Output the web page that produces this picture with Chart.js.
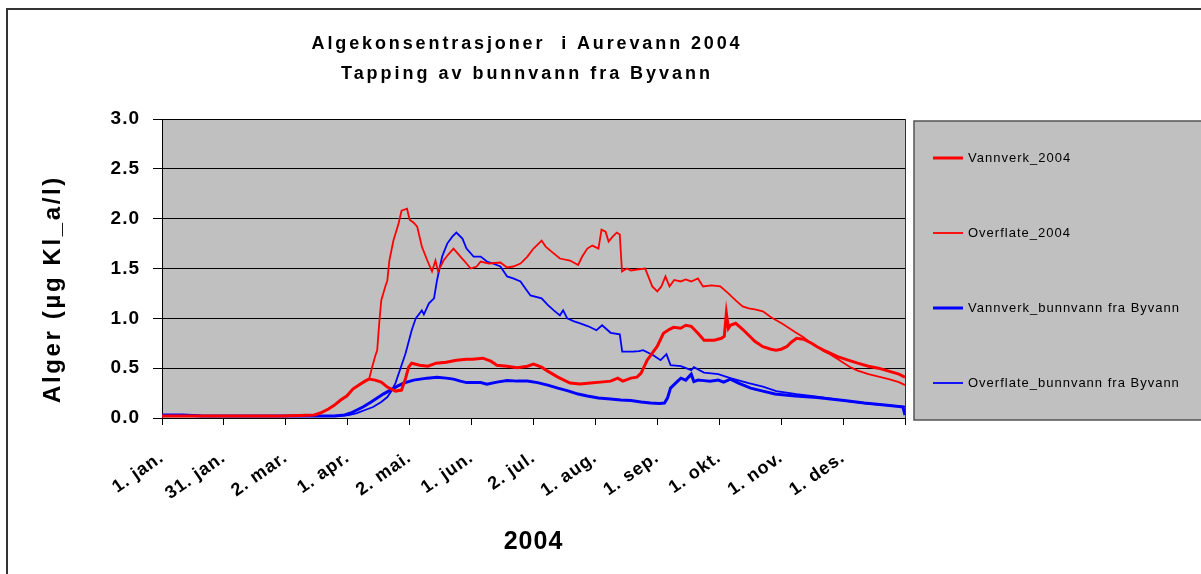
<!DOCTYPE html>
<html>
<head>
<meta charset="utf-8">
<script src="https://cdn.jsdelivr.net/npm/chart.js@4.4.1/dist/chart.umd.min.js"></script>
<style>
  html, body { margin: 0; padding: 0; background: #fff; }
  #wrap { width: 1201px; height: 574px; }
</style>
</head>
<body>
<div id="wrap"><canvas id="algeChart" width="1201" height="574"></canvas></div>
<script>
// chart texts
const titleLines = ['Algekonsentrasjoner  i Aurevann 2004', 'Tapping av bunnvann fra Byvann'];
const yTitle = 'Alger (µg Kl_a/l)';
const xTitle = '2004';

// x axis: day of year (0 = 1. jan.), ticks every 30.5 days
const tickDays = [0, 30.5, 61, 91.5, 122, 152.5, 183, 213.5, 244, 274.5, 305, 335.5, 366];
const tickLabels = ['1. jan.', '31. jan.', '2. mar.', '1. apr.', '2. mai.', '1. jun.', '2. jul.',
  '1. aug.', '1. sep.', '1. okt.', '1. nov.', '1. des.', ''];

// Vannverk_2004
const vannverkDays = [0, 20, 40, 60, 75, 78, 82, 85, 88, 91, 94, 97, 100, 102, 105, 108, 111, 115, 118, 120,
  121.5, 123, 127, 131, 135, 140, 145, 150, 153, 158, 162, 165, 170, 175, 180, 183, 187, 190, 195, 201,
  206, 211, 216, 221, 224.5, 227, 231, 234, 236, 239, 241.5, 244, 247, 250, 252, 255.5, 258, 260.7, 264, 267,
  272, 275.6, 277, 278, 279, 280, 282.6, 286, 289, 292, 296, 300, 302.5, 305, 307.7, 310, 312.6, 316, 320,
  322.7, 327, 332.8, 338, 342.7, 348, 352.9, 358, 363, 366];
const vannverkValues = [0.02, 0.02, 0.02, 0.02, 0.03, 0.05, 0.09, 0.13, 0.18, 0.22, 0.29, 0.33, 0.37, 0.39, 0.38, 0.36, 0.31, 0.27, 0.28, 0.40,
  0.51, 0.55, 0.53, 0.52, 0.55, 0.56, 0.58, 0.59, 0.59, 0.60, 0.57, 0.53, 0.52, 0.505, 0.52, 0.54, 0.51, 0.47, 0.41, 0.35,
  0.34, 0.35, 0.36, 0.37, 0.40, 0.37, 0.40, 0.41, 0.45, 0.58, 0.65, 0.72, 0.85, 0.89, 0.91, 0.90, 0.93, 0.92, 0.85, 0.78,
  0.78, 0.80, 0.82, 1.05, 0.90, 0.93, 0.95, 0.89, 0.83, 0.77, 0.715, 0.69, 0.68, 0.69, 0.715, 0.76, 0.80, 0.79, 0.75,
  0.715, 0.67, 0.615, 0.58, 0.55, 0.52, 0.50, 0.47, 0.44, 0.41];

// Overflate_2004
const overflateDays = [0, 20, 40, 60, 75, 78, 82, 85, 88, 91, 94, 97, 100, 102, 103.5, 105, 106, 107, 108, 110,
  111, 112, 114, 116.5, 118, 120.7, 122, 124, 125.7, 128, 130.6, 133, 134.7, 136, 138.7, 141, 143.6, 147, 150, 152,
  155, 157, 161, 166.7, 170, 173, 176.6, 180, 183, 187, 189, 191, 196, 201, 205, 207, 209.5, 212, 215, 216.5,
  218.5, 220, 222, 224, 225.5, 226.6, 229, 231, 234, 238, 241.5, 244, 246, 248, 250, 252.3, 255.5, 258, 260.7, 264,
  266.5, 270.7, 275, 279, 282.6, 286, 289, 292, 296, 300, 302.6, 306, 309, 312, 316, 319, 322.7, 326, 329, 333,
  336, 339, 342.7, 348, 353, 358, 363, 366];
const overflateValues = [0.02, 0.02, 0.02, 0.02, 0.03, 0.05, 0.09, 0.13, 0.18, 0.22, 0.29, 0.33, 0.37, 0.39, 0.51, 0.62, 0.68, 0.95, 1.18, 1.32,
  1.38, 1.58, 1.78, 1.95, 2.08, 2.10, 1.99, 1.96, 1.92, 1.72, 1.585, 1.47, 1.58, 1.47, 1.58, 1.64, 1.70, 1.62, 1.55, 1.50,
  1.52, 1.57, 1.55, 1.56, 1.51, 1.52, 1.55, 1.62, 1.70, 1.78, 1.72, 1.685, 1.60, 1.58, 1.535, 1.62, 1.70, 1.73, 1.70, 1.89,
  1.87, 1.77, 1.82, 1.86, 1.84, 1.47, 1.50, 1.48, 1.49, 1.50, 1.32, 1.27, 1.32, 1.42, 1.32, 1.385, 1.37, 1.39, 1.37, 1.40,
  1.32, 1.33, 1.32, 1.25, 1.18, 1.12, 1.10, 1.09, 1.07, 1.01, 0.98, 0.94, 0.90, 0.86, 0.81, 0.76, 0.715, 0.67, 0.64, 0.59,
  0.55, 0.51, 0.475, 0.44, 0.415, 0.39, 0.36, 0.33];

// Vannverk_bunnvann fra Byvann
const vannverkBunnDays = [0, 10, 20, 60, 85, 90, 93, 96, 99, 103, 106, 109, 112.5, 116, 119, 124, 130.6, 135.5, 140, 143.6,
  147, 150, 157, 160, 165, 170, 175, 180, 185, 190, 195, 199.6, 205, 209.5, 215, 221, 226, 231, 236, 240.7,
  245, 247.5, 249, 250.5, 252, 253, 255.6, 258, 260.7, 262, 264, 267, 270, 274, 276.7, 280, 284, 290, 296, 302,
  312, 322.7, 336, 346, 356, 363, 365, 366];
const vannverkBunnValues = [0.03, 0.03, 0.02, 0.02, 0.02, 0.03, 0.05, 0.08, 0.11, 0.16, 0.20, 0.24, 0.28, 0.32, 0.35, 0.38, 0.40, 0.41, 0.40, 0.39,
  0.37, 0.355, 0.355, 0.34, 0.36, 0.375, 0.37, 0.37, 0.355, 0.33, 0.30, 0.275, 0.24, 0.22, 0.20, 0.19, 0.18, 0.175, 0.16, 0.15,
  0.145, 0.15, 0.20, 0.30, 0.33, 0.35, 0.40, 0.38, 0.44, 0.365, 0.38, 0.375, 0.37, 0.38, 0.36, 0.39, 0.35, 0.30, 0.27, 0.24,
  0.22, 0.205, 0.175, 0.15, 0.13, 0.115, 0.11, 0.03];

// Overflate_bunnvann fra Byvann
const overflateBunnDays = [0, 10, 20, 60, 85, 92, 96, 100, 104, 108, 111, 113, 115, 117.5, 120, 123, 125, 128, 129, 131.5,
  134, 135.5, 138, 140.5, 143, 145, 148, 150, 153.5, 157, 160, 163, 166.7, 170, 173, 176.6, 179, 181.5, 187, 190,
  193, 196, 197.6, 199.6, 203, 206, 210, 214, 216.8, 221, 225.5, 226.7, 232, 235, 237, 242, 245.6, 248.5, 250.5, 255.6,
  260.7, 262, 267, 274, 280, 289, 296, 302.6, 312.6, 322.7, 336, 346, 356, 363, 366];
const overflateBunnValues = [0.03, 0.03, 0.02, 0.02, 0.02, 0.03, 0.05, 0.08, 0.11, 0.16, 0.21, 0.27, 0.35, 0.50, 0.65, 0.88, 1.00, 1.08, 1.04, 1.15,
  1.20, 1.385, 1.62, 1.75, 1.82, 1.86, 1.80, 1.70, 1.62, 1.62, 1.57, 1.55, 1.52, 1.42, 1.40, 1.37, 1.30, 1.23, 1.20, 1.135,
  1.08, 1.03, 1.08, 1.00, 0.97, 0.95, 0.92, 0.88, 0.93, 0.855, 0.84, 0.665, 0.665, 0.67, 0.68, 0.63, 0.58, 0.64, 0.53, 0.52,
  0.48, 0.51, 0.455, 0.44, 0.40, 0.35, 0.315, 0.27, 0.24, 0.215, 0.175, 0.147, 0.13, 0.12, 0.115];

const yTicks = [0, 0.5, 1, 1.5, 2, 2.5, 3];

function toPoints(days, values) {
  return days.map((d, i) => ({ x: d, y: values[i] }));
}

Chart.defaults.font.family = "'Liberation Sans', Arial, sans-serif";
Chart.defaults.color = '#000';

// draw text stretched to a given width with letter spacing (Excel look)
function spacedText(ctx, text, cx, cy, width) {
  ctx.letterSpacing = '0px';
  const w = ctx.measureText(text).width;
  const sp = (width - w) / text.length;
  ctx.letterSpacing = sp + 'px';
  ctx.textAlign = 'left';
  ctx.textBaseline = 'middle';
  ctx.fillText(text, cx - width / 2, cy);
}

const decor = {
  id: 'decor',
  beforeDraw(chart) {
    const { ctx, chartArea: a } = chart;
    ctx.save();
    ctx.fillStyle = '#c0c0c0';
    ctx.fillRect(a.left, a.top, a.right - a.left, a.bottom - a.top);
    ctx.restore();
    ctx.letterSpacing = '1px';
  },
  afterDraw(chart) {
    const { ctx, chartArea: a } = chart;
    ctx.save();
    // outer frame
    ctx.strokeStyle = '#333';
    ctx.lineWidth = 2;
    ctx.strokeRect(7, 9, 1300, 700);
    // plot frame
    ctx.strokeStyle = '#333';
    ctx.lineWidth = 1;
    ctx.beginPath();
    ctx.moveTo(a.right + 0.5, a.top);
    ctx.lineTo(a.right + 0.5, a.bottom);
    ctx.stroke();

    // title
    ctx.fillStyle = '#000';
    ctx.font = "bold 18px 'Liberation Sans', Arial, sans-serif";
    spacedText(ctx, titleLines[0], 527, 44, 431);
    spacedText(ctx, titleLines[1], 527, 74, 372);

    // y title
    ctx.save();
    ctx.translate(53, 289);
    ctx.rotate(-Math.PI / 2);
    ctx.font = "bold 24px 'Liberation Sans', Arial, sans-serif";
    spacedText(ctx, yTitle, 0, 0, 228);
    ctx.restore();

    // legend box
    const lx = 914, ly = 121, lw = 300, lh = 299;
    ctx.fillStyle = '#c0c0c0';
    ctx.fillRect(lx, ly, lw, lh);
    ctx.strokeStyle = '#555';
    ctx.lineWidth = 1.5;
    ctx.strokeRect(lx, ly, lw, lh);
    ctx.font = "13px 'Liberation Sans', Arial, sans-serif";
    chart.data.datasets.forEach((ds, i) => {
      const y = 158 + i * 75;
      ctx.strokeStyle = ds.borderColor;
      ctx.lineWidth = ds.borderWidth;
      ctx.beginPath();
      ctx.moveTo(933, y);
      ctx.lineTo(963, y);
      ctx.stroke();
      ctx.fillStyle = '#000';
      ctx.letterSpacing = '1px';
      ctx.textAlign = 'left';
      ctx.textBaseline = 'middle';
      ctx.fillText(ds.label, 968, y);
    });
    ctx.restore();
  }
};

new Chart(document.getElementById('algeChart'), {
  type: 'line',
  data: {
    datasets: [
      { label: 'Vannverk_2004', data: toPoints(vannverkDays, vannverkValues),
        borderColor: '#ff0000', borderWidth: 3 },
      { label: 'Overflate_2004', data: toPoints(overflateDays, overflateValues),
        borderColor: '#ff0000', borderWidth: 1.8 },
      { label: 'Vannverk_bunnvann fra Byvann', data: toPoints(vannverkBunnDays, vannverkBunnValues),
        borderColor: '#0000ff', borderWidth: 3 },
      { label: 'Overflate_bunnvann fra Byvann', data: toPoints(overflateBunnDays, overflateBunnValues),
        borderColor: '#0000ff', borderWidth: 1.8 }
    ]
  },
  options: {
    responsive: false,
    animation: false,
    devicePixelRatio: 1,
    layout: { padding: { top: 119, right: 296, left: 0, bottom: 0 } },
    elements: { point: { radius: 0 }, line: { tension: 0, fill: false } },
    plugins: { legend: { display: false }, title: { display: false }, tooltip: { enabled: false } },
    scales: {
      x: {
        type: 'linear',
        min: 0,
        max: 366,
        afterFit: (scale) => { scale.height = 156; },
        afterBuildTicks: (scale) => { scale.ticks = tickDays.map(v => ({ value: v })); },
        grid: { drawOnChartArea: false, color: '#000', tickLength: 7 },
        border: { color: '#000', width: 1 },
        ticks: {
          autoSkip: false,
          minRotation: 35,
          maxRotation: 35,
          padding: 22,
          font: { size: 18, weight: 'bold' },
          callback: (value, index) => tickLabels[index]
        },
        title: {
          display: true,
          text: xTitle,
          font: { size: 25, weight: 'bold' },
          padding: { top: 0, bottom: 17 }
        }
      },
      y: {
        min: 0,
        max: 3,
        afterFit: (scale) => { scale.width = 162; },
        afterBuildTicks: (scale) => { scale.ticks = yTicks.map(v => ({ value: v })); },
        grid: { color: '#000', lineWidth: 1, tickLength: 9 },
        border: { color: '#000', width: 1 },
        ticks: {
          padding: 13,
          font: { size: 19, weight: 'bold' },
          callback: (value) => value.toFixed(1)
        }
      }
    }
  },
  plugins: [decor]
});
</script>
</body>
</html>
